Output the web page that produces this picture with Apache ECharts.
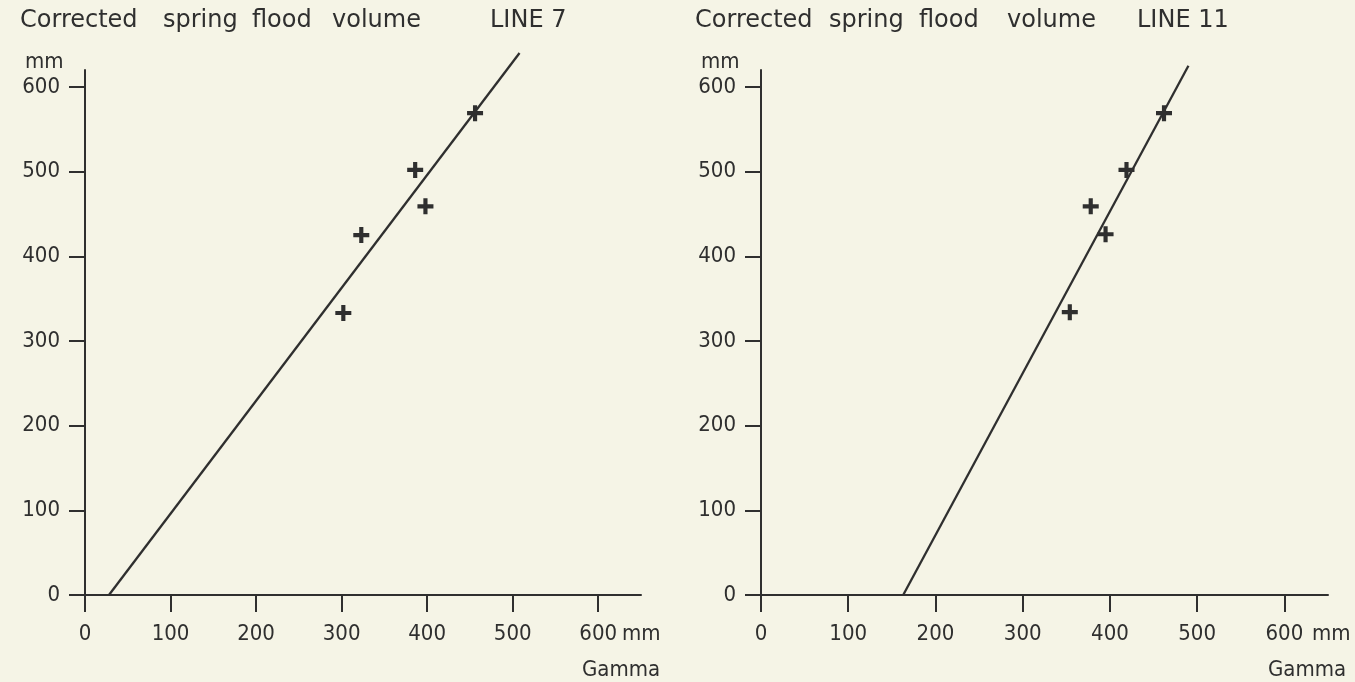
<!DOCTYPE html>
<html>
<head>
<meta charset="utf-8">
<script src="https://cdn.jsdelivr.net/npm/echarts@6/dist/echarts.min.js"></script>
<style>
  html, body { margin: 0; padding: 0; background: #f5f4e6; }
  #chart { width: 1355px; height: 682px; }
</style>
</head>
<body>
<div id="chart"></div>
<script>
// Gamma-estimated volume (x) against corrected spring flood volume (y), mm
const gammaLine7 = [456, 386, 398, 323, 302];
const volumeLine7 = [569, 502, 459, 425, 333];
const fitLine7 = [[28, 0], [508, 640]];

const gammaLine11 = [462, 419, 378, 395, 354];
const volumeLine11 = [569, 502, 459, 426, 334];
const fitLine11 = [[163, 0], [490, 625]];

const tickValues = [0, 100, 200, 300, 400, 500, 600];
const titleWords = ['Corrected', 'spring', 'flood', 'volume'];
const panelTitles = ['LINE 7', 'LINE 11'];

const INK = '#2f2f2f';
const FONT = '"DejaVu Sans Condensed", "DejaVu Sans", sans-serif';
const TITLE_FONT = '"DejaVu Sans", sans-serif';
const PLUS = 'path://M3.7,0H6.3V3.7H10V6.3H6.3V10H3.7V6.3H0V3.7H3.7Z';

function xAxisFor(gridIndex) {
  return {
    gridIndex, type: 'value', min: 0, max: 650,
    axisLine: { onZero: false, lineStyle: { color: INK, width: 2 } },
    axisTick: { customValues: tickValues, length: 17, lineStyle: { color: INK, width: 2 } },
    axisLabel: {
      customValues: tickValues, margin: 28, color: INK,
      fontFamily: FONT, fontSize: 22
    },
    splitLine: { show: false }
  };
}
function yAxisFor(gridIndex) {
  return {
    gridIndex, type: 'value', min: 0, max: 620,
    axisLine: { onZero: false, lineStyle: { color: INK, width: 2 } },
    axisTick: { customValues: tickValues, length: 16, lineStyle: { color: INK, width: 2 } },
    axisLabel: {
      customValues: tickValues, margin: 25, color: INK,
      fontFamily: FONT, fontSize: 22
    },
    splitLine: { show: false }
  };
}
function pairs(xs, ys) { return xs.map((x, i) => [x, ys[i]]); }

function label(x, y, text, font) {
  return {
    type: 'text', x, y,
    style: { text, fill: INK, font: font || ('22px ' + FONT), verticalAlign: 'middle' }
  };
}

// heading words laid out with the wide plotter spacing
const leftWordX = [20, 163, 252, 332, 490];
const rightWordX = [695, 829, 919, 1007, 1137];
const headings = [];
titleWords.concat([panelTitles[0]]).forEach((w, i) =>
  headings.push(label(leftWordX[i], 21, w, '24px ' + TITLE_FONT)));
titleWords.concat([panelTitles[1]]).forEach((w, i) =>
  headings.push(label(rightWordX[i], 21, w, '24px ' + TITLE_FONT)));

const chart = echarts.init(document.getElementById('chart'), null, { renderer: 'canvas' });

chart.setOption({
  backgroundColor: '#f5f4e6',
  animation: false,
  grid: [
    { left: 85, top: 70, width: 556, height: 525 },
    { left: 761, top: 70, width: 567, height: 525 }
  ],
  xAxis: [xAxisFor(0), xAxisFor(1)],
  yAxis: [yAxisFor(0), yAxisFor(1)],
  graphic: headings.concat([
    label(25, 62, 'mm'),
    label(701, 62, 'mm'),
    label(622, 634, 'mm'),
    label(1312, 634, 'mm'),
    label(582, 670, 'Gamma'),
    label(1268, 670, 'Gamma')
  ]),
  series: [
    {
      type: 'line', xAxisIndex: 0, yAxisIndex: 0, data: fitLine7, clip: false,
      symbol: 'none', lineStyle: { color: INK, width: 2.3 }
    },
    {
      type: 'scatter', xAxisIndex: 0, yAxisIndex: 0, data: pairs(gammaLine7, volumeLine7),
      symbol: PLUS, symbolSize: 16, itemStyle: { color: INK, opacity: 1 }
    },
    {
      type: 'line', xAxisIndex: 1, yAxisIndex: 1, data: fitLine11, clip: false,
      symbol: 'none', lineStyle: { color: INK, width: 2.3 }
    },
    {
      type: 'scatter', xAxisIndex: 1, yAxisIndex: 1, data: pairs(gammaLine11, volumeLine11),
      symbol: PLUS, symbolSize: 16, itemStyle: { color: INK, opacity: 1 }
    }
  ]
});
</script>
</body>
</html>
